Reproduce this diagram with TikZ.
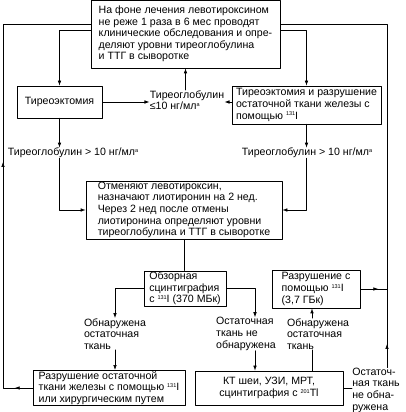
\documentclass[tikz,border=0pt]{standalone}
\usepackage{fontspec}
\setmainfont{Liberation Sans}
\usetikzlibrary{arrows.meta}
\newcommand{\isot}[1]{\raisebox{0.6ex}{\fontsize{5.5}{5.5}\selectfont#1}}

\begin{document}
\begin{tikzpicture}[line cap=round,line join=round,x=1.0pt,y=1.0pt,
  font=\fontsize{10.6}{11.6}\selectfont,
  >={Latex[length=5pt,width=3.6pt]},
  every path/.style={line width=0.7pt},
  box/.style={draw,line width=0.7pt,inner xsep=2pt,inner ysep=1pt,align=left},
  txt/.style={inner sep=0pt,align=left}]

\useasboundingbox (0,0) rectangle (405,412);

\node[box,minimum width=189,minimum height=68] (top) at (185.5,378) {На фоне лечения левотироксином\\не реже 1 раза в 6 мес проводят\\клинические обследования и опре-\\деляют уровни тиреоглобулина\\и ТТГ в сыворотке};

\node[box,align=center,minimum width=85,minimum height=32] (thy) at (59.5,310) {Тиреоэктомия};
\node[txt] (tga) at (187,312) {Тиреоглобулин\\≤10 нг/мл\isot{a}};
\node[box,minimum width=149,minimum height=38] (thyrad) at (306.5,307) {Тиреоэктомия и разрушение\\остаточной ткани железы с\\помощью \isot{131}I};

\node[txt] (tgl) at (73,259) {Тиреоглобулин > 10 нг/мл\isot{a}};
\node[txt] (tgr) at (307,259) {Тиреоглобулин > 10 нг/мл\isot{a}};

\node[box,minimum width=196,minimum height=58] (mid) at (184,202) {Отменяют левотироксин,\\назначают лиотиронин на 2 нед.\\Через 2 нед после отмены\\лиотиронина определяют уровни\\тиреоглобулина и ТТГ в сыворотке};

\node[box,minimum width=82,minimum height=33] (scan) at (185,123.5) {Обзорная\\сцинтиграфия\\с \isot{131}I (370 МБк)};
\node[box,minimum width=88,minimum height=38] (destroy) at (316,123) {Разрушение с\\помощью \isot{131}I\\(3,7 ГБк)};

\node[txt] (foundl) at (115,78) {Обнаружена\\остаточная\\ткань};
\node[txt] (foundm) at (246,78) {Остаточная\\ткань не\\обнаружена};
\node[txt] (foundr) at (318,78) {Обнаружена\\остаточная\\ткань};

\node[box,minimum width=152,minimum height=34] (ablate) at (109,24) {Разрушение остаточной\\ткани железы с помощью \isot{131}I\\или хирургическим путем};
\node[box,align=center,minimum width=148,minimum height=34] (imaging) at (269,24) {КТ шеи, УЗИ, МРТ,\\сцинтиграфия с \isot{201}Tl};
\node[txt] (notfound) at (376,22) {Остаточ-\\ная ткань\\не обна-\\ружена};

\coordinate (tl) at (3,388);
\coordinate (tr) at (387,388);
\coordinate (tipl) at (3,250);
\coordinate (tipr) at (387,68);

\draw (ablate.west) -- (tl |- ablate.west) -- (tl) -- (top.west |- tl);
\draw [->] (ablate.west) -- ++(-18,0);
\draw [->] (tl |- ablate.west) -- (tipl);
\draw (tr |- notfound.north) -- (tr) -- (top.east |- tr);
\draw [->] (tr |- notfound.north) -- (tipr);
\draw (destroy.east) -- (tr |- destroy.east);
\draw [->] (destroy.east) -- ++(18,0);

\draw [->] (top.west |- 0,382) -| (thy.north);
\draw [->] (top.east |- 0,382) -| (thyrad.north);
\draw [->] (thy.east) -- (tga.west |- thy.east);
\draw [->] (thyrad.west |- thy.east) -- (tga.east |- thy.east);
\draw [->] (tga.north -| top.south) -- (top.south);

\draw [->] (thy.south) -- (thy.south |- tgl.north);
\draw [->] (thyrad.south) -- (thyrad.south |- tgr.north);
\draw [->] (thy.south |- tgl.south) |- (mid.west);
\draw [->] (thyrad.south |- tgr.south) |- (mid.east);
\draw (mid.south) -- (mid.south |- scan.north);

\draw [->] (scan.west) -| (foundl.north);
\draw [->] (scan.east) -| (255,0 |- foundm.north);
\draw [->] (foundl.south) -- (foundl.south |- ablate.north);
\draw [->] (255,0 |- foundm.south) -- (255,0 |- imaging.north);
\draw (312,0 |- imaging.north) -- (312,0 |- foundr.south);
\draw [->] (312,0 |- foundr.north) -- (312,0 |- destroy.south);
\draw (imaging.east) -- (notfound.west |- imaging.east);
\end{tikzpicture}
\end{document}
